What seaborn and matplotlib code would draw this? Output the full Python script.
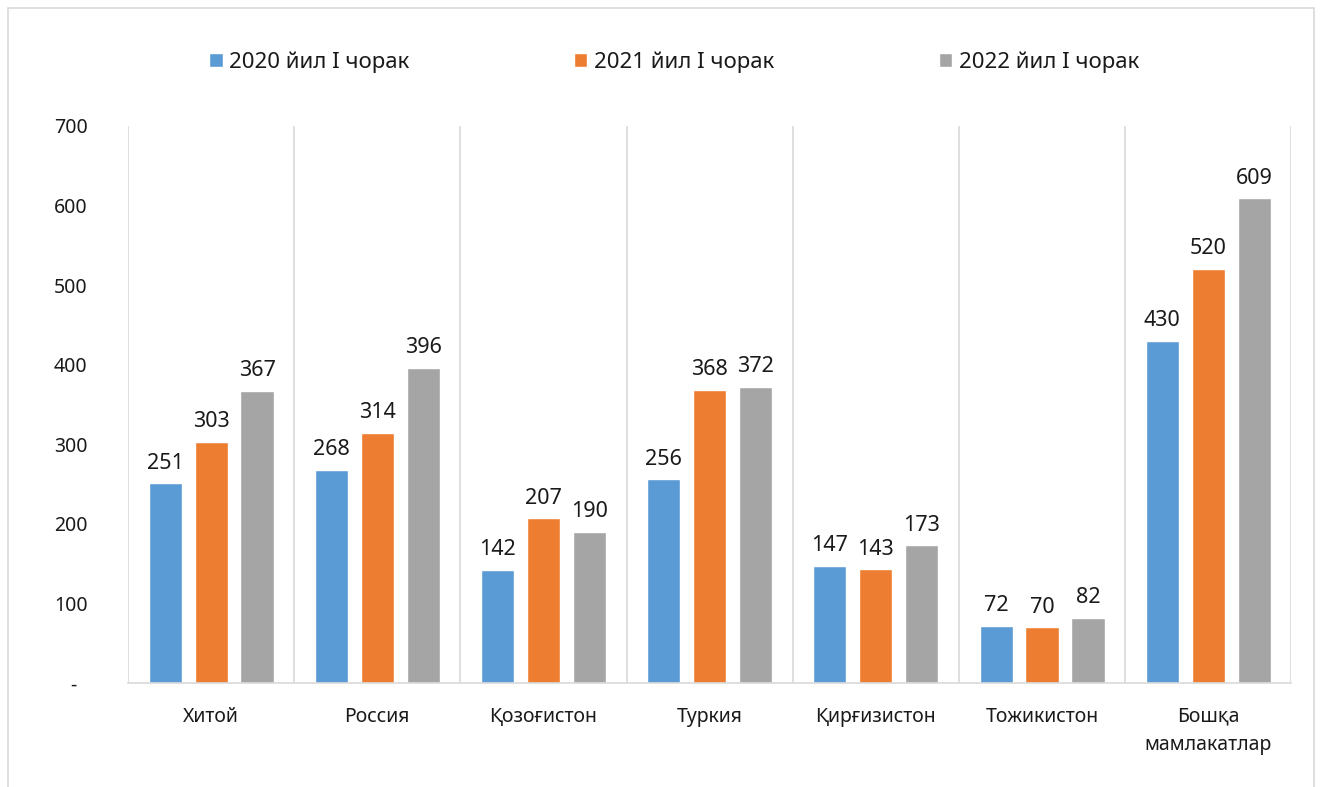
import numpy as np
import pandas as pd
import matplotlib
matplotlib.use("Agg")
import matplotlib.pyplot as plt
import seaborn as sns
from matplotlib.patches import Rectangle

sns.set_style("white")
plt.rcParams['font.family'] = ['Noto Sans', 'DejaVu Sans']

# data
countries = ['Хитой', 'Россия', 'Қозоғистон', 'Туркия', 'Қирғизистон',
             'Тожикистон', 'Бошқа\nмамлакатлар']
series = ['2020 йил I чорак', '2021 йил I чорак', '2022 йил I чорак']
v2020 = [251, 268, 142, 256, 147, 72, 430]
v2021 = [303, 314, 207, 368, 143, 70, 520]
v2022 = [367, 396, 190, 372, 173, 82, 609]
yticks = [0, 100, 200, 300, 400, 500, 600, 700]
ylabels = ['-  ', '100', '200', '300', '400', '500', '600', '700']

colors = ['#5B9BD5', '#ED7D31', '#A5A5A5']

df = pd.DataFrame({
    'country': countries * 3,
    'year': [s for s in series for _ in countries],
    'value': v2020 + v2021 + v2022,
})

fig = plt.figure(figsize=(13.22, 7.87), dpi=100)
ax = fig.add_axes([0.0968, 0.132, 0.880, 0.708])

sns.barplot(data=df, x='country', y='value', hue='year', order=countries,
            hue_order=series, palette=colors, width=0.83, gap=0.28,
            saturation=1, ax=ax, errorbar=None)

for c in ax.containers:
    ax.bar_label(c, fmt='%d', padding=7, fontsize=15.5, color='#1a1a1a')

ax.set_ylim(0, 700)
ax.set_xlim(-0.5, len(countries) - 0.5)
ax.set_yticks(yticks)
ax.set_yticklabels(ylabels)
ax.set_xlabel('')
ax.set_ylabel('')
for lbl in ax.get_xticklabels():
    lbl.set_linespacing(1.55)

# category separators
ax.set_xticks(np.arange(-0.5, len(countries), 1), minor=True)
ax.grid(True, which='minor', axis='x', color='#D9D9D9', linewidth=1.2)
ax.grid(False, which='major')
ax.tick_params(axis='x', which='minor', length=7, color='#D9D9D9', width=1.2)
ax.tick_params(axis='x', which='major', length=0, pad=17, labelsize=14,
               labelcolor='#1a1a1a')
ax.tick_params(axis='y', length=0, pad=29, labelsize=14, labelcolor='#1a1a1a')
for s in ['top', 'right', 'left']:
    ax.spines[s].set_visible(False)
ax.spines['bottom'].set_color('#D9D9D9')
ax.spines['bottom'].set_linewidth(1.2)

leg = ax.legend(loc='center', bbox_to_anchor=(0.51, 0.921),
                bbox_transform=fig.transFigure, ncol=3, frameon=False,
                fontsize=16, handlelength=0.6, handleheight=0.6,
                handletextpad=0.3, columnspacing=7.4)
for t in leg.get_texts():
    t.set_color('#1a1a1a')

fig.patches.append(Rectangle((8 / 1322, -0.01), 1306 / 1322, 1 - 8 / 787 + 0.01,
                             transform=fig.transFigure, fill=False,
                             edgecolor='#D9D9D9', linewidth=1.2))

fig.savefig('out.png', dpi=100)
